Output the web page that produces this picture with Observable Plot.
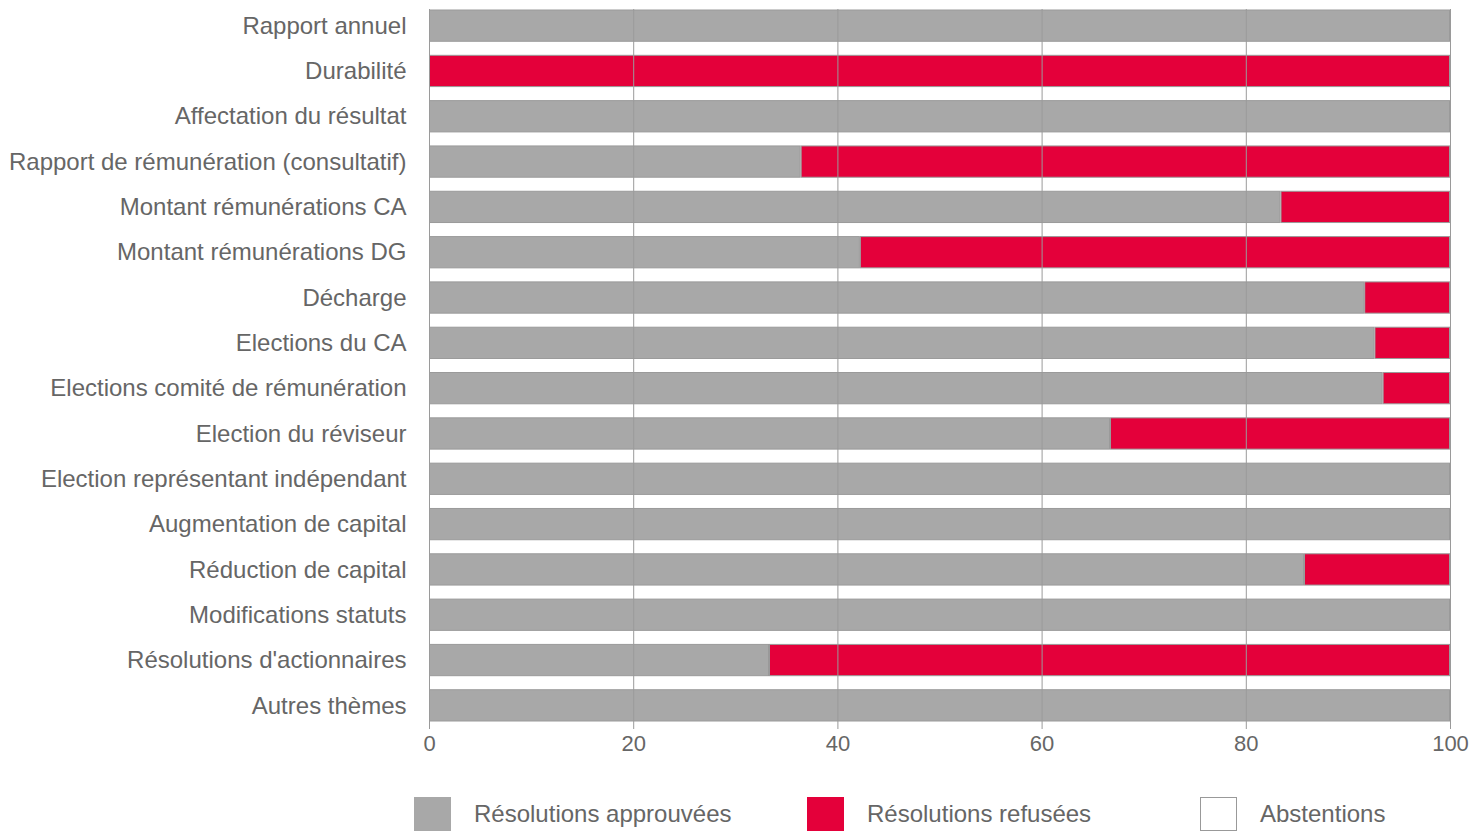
<!DOCTYPE html>
<html><head><meta charset="utf-8">
<script src="https://cdn.jsdelivr.net/npm/d3@7"></script>
<script src="https://cdn.jsdelivr.net/npm/@observablehq/plot@0.6"></script>
<style>
body{margin:0;background:#fff;font-family:"Liberation Sans",Arial,sans-serif;}
#legend{position:absolute;top:797px;left:0;width:1483px;height:40px;font-size:24px;color:#666;}
.item{position:absolute;top:0;display:flex;align-items:center;}
.sw{width:37px;height:34px;box-sizing:border-box;margin-right:23px;}
</style></head>
<body>
<div id="chart"></div>
<div id="legend"></div>
<script>
const categories = ["Rapport annuel","Durabilité","Affectation du résultat","Rapport de rémunération (consultatif)","Montant rémunérations CA","Montant rémunérations DG","Décharge","Elections du CA","Elections comité de rémunération","Election du réviseur","Election représentant indépendant","Augmentation de capital","Réduction de capital","Modifications statuts","Résolutions d'actionnaires","Autres thèmes"];
const approved = [100, 0, 100, 36.4, 83.4, 42.2, 91.6, 92.6, 93.4, 66.7, 100, 100, 85.7, 100, 33.3, 100];
const refused  = [0, 100, 0, 63.6, 16.6, 57.8, 8.4, 7.4, 6.6, 33.3, 0, 0, 14.3, 0, 66.7, 0];
const abstentions = [0,0,0,0,0,0,0,0,0,0,0,0,0,0,0,0];
const series = ["Résolutions approuvées","Résolutions refusées","Abstentions"];
const colors = ["#a8a8a8","#e4003a","#ffffff"];
const xTicks = [0,20,40,60,80,100];

const data = [];
categories.forEach((c,i)=>{
  [approved,refused,abstentions].forEach((arr,j)=>{
    data.push({category:c, series:series[j], order:j, value:arr[i]});
  });
});

const chart = Plot.plot({
  width:1483, height:770,
  marginLeft:429, marginRight:33, marginTop:10, marginBottom:49,
  style:{fontFamily:"Liberation Sans, Arial, sans-serif", fontSize:"22px", color:"#666", background:"#fff"},
  x:{domain:[0,100], ticks:xTicks, label:null},
  y:{domain:categories, paddingInner:0.31, paddingOuter:0, round:false, label:null},
  color:{domain:series, range:colors},
  marks:[
    Plot.barX(data, Plot.stackX({x:"value", y:"category", fill:"series", order:"order", stroke:"#9a9a9a", strokeWidth:1, insetLeft:0.5, insetRight:0.5})),
    Plot.ruleX(xTicks, {x:d=>d, stroke:"#9a9a9a", strokeWidth:1, insetTop:-1, insetBottom:-8}),
    Plot.axisX({ticks:xTicks, tickSize:0, tickPadding:14, fontSize:22, fill:"#666", label:null}),
    Plot.axisY({tickSize:0, tickPadding:23, fontSize:24, fill:"#666", label:null})
  ]
});
document.getElementById("chart").appendChild(chart);

const legend = document.getElementById("legend");
const lx = [414, 807, 1200];
series.forEach((s,i)=>{
  const it = document.createElement("div");
  it.className="item"; it.style.left = lx[i]+"px";
  const sw = document.createElement("div");
  sw.className="sw"; sw.style.background = colors[i];
  if(i===2) sw.style.border = "1px solid #999";
  const t = document.createElement("span"); t.textContent = s;
  it.appendChild(sw); it.appendChild(t); legend.appendChild(it);
});
</script>
</body></html>
